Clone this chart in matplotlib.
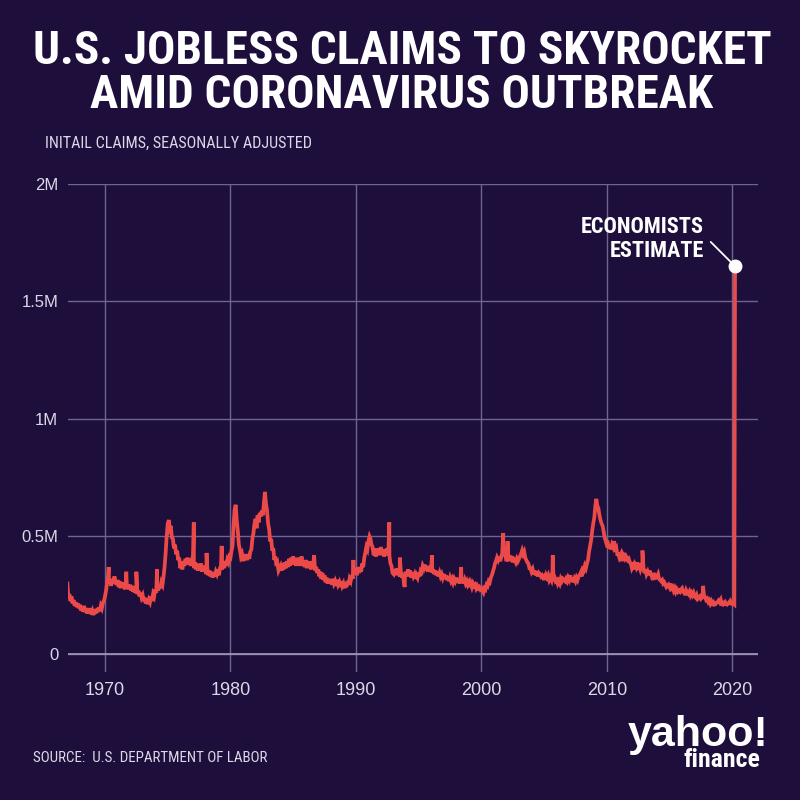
import numpy as np
import pandas as pd
import matplotlib
matplotlib.use("Agg")
import matplotlib.pyplot as plt
from matplotlib import font_manager

# -----------------------------
# DATA (thousands of initial claims, seasonally adjusted)
# -----------------------------
start_month = "1967-01"

# monthly readings, one row per year
claims_monthly_k = [
    300, 235, 255, 225, 245, 215, 230, 205, 220, 200, 215, 195,  # 1967
    210, 185, 200, 180, 205, 178, 195, 172, 190, 175, 195, 168,  # 1968
    182, 166, 188, 172, 192, 178, 198, 182, 205, 195, 218, 225,  # 1969
    245, 270, 300, 335, 300, 315, 290, 320, 300, 330, 310, 295,  # 1970
    315, 285, 310, 280, 305, 285, 300, 275, 310, 280, 295, 275,  # 1971
    295, 270, 290, 265, 285, 260, 280, 255, 270, 245, 260, 240,  # 1972
    250, 225, 240, 215, 235, 212, 230, 220, 245, 225, 255, 245,  # 1973
    275, 260, 285, 270, 295, 280, 305, 295, 330, 370, 430, 500,  # 1974
    555, 570, 535, 545, 495, 490, 450, 465, 425, 440, 400, 410,  # 1975
    365, 385, 360, 395, 375, 405, 385, 410, 380, 405, 375, 395,  # 1976
    385, 365, 390, 360, 385, 355, 380, 365, 385, 350, 375, 355,  # 1977
    370, 340, 360, 335, 355, 330, 350, 325, 345, 330, 350, 340,  # 1978
    360, 335, 365, 375, 360, 390, 365, 395, 375, 400, 390, 415,  # 1979
    410, 440, 460, 550, 615, 635, 570, 525, 465, 445, 415, 425,  # 1980
    395, 425, 400, 420, 400, 425, 405, 435, 445, 490, 515, 555,  # 1981
    575, 535, 590, 560, 600, 585, 610, 590, 640, 690, 640, 610,  # 1982
    555, 530, 480, 490, 440, 450, 400, 415, 375, 385, 355, 365,  # 1983
    375, 355, 385, 360, 390, 365, 395, 370, 405, 375, 410, 385,  # 1984
    415, 380, 405, 375, 410, 385, 400, 375, 415, 380, 395, 370,  # 1985
    400, 365, 395, 370, 385, 360, 395, 365, 420, 355, 370, 345,  # 1986
    360, 330, 350, 320, 345, 315, 335, 305, 325, 300, 320, 300,  # 1987
    315, 295, 320, 300, 310, 290, 315, 295, 305, 285, 310, 290,  # 1988
    300, 280, 305, 285, 310, 295, 320, 310, 335, 320, 355, 340,  # 1989
    365, 335, 370, 345, 365, 350, 385, 370, 410, 430, 455, 445,  # 1990
    480, 500, 490, 465, 455, 420, 450, 415, 445, 420, 450, 430,  # 1991
    455, 420, 445, 415, 440, 420, 450, 425, 420, 385, 375, 345,  # 1992
    340, 360, 335, 365, 340, 355, 330, 350, 325, 345, 300, 335,  # 1993
    350, 330, 360, 335, 355, 325, 345, 330, 340, 320, 335, 325,  # 1994
    345, 330, 355, 350, 375, 365, 380, 355, 370, 350, 375, 355,  # 1995
    370, 345, 360, 340, 355, 335, 350, 330, 345, 330, 340, 325,  # 1996
    340, 320, 335, 315, 330, 310, 325, 310, 320, 305, 320, 310,  # 1997
    325, 305, 320, 300, 315, 305, 320, 300, 315, 300, 310, 295,  # 1998
    305, 285, 300, 285, 300, 290, 295, 280, 290, 280, 285, 275,  # 1999
    280, 270, 262, 280, 275, 295, 290, 310, 305, 325, 335, 350,  # 2000
    365, 385, 395, 410, 400, 415, 395, 410, 430, 470, 430, 420,  # 2001
    395, 410, 395, 420, 400, 415, 390, 405, 400, 390, 405, 395,  # 2002
    405, 415, 425, 440, 425, 435, 410, 400, 390, 385, 365, 365,  # 2003
    350, 360, 340, 355, 335, 350, 330, 345, 340, 330, 335, 325,  # 2004
    330, 315, 335, 325, 335, 315, 325, 315, 350, 320, 325, 310,  # 2005
    315, 300, 310, 300, 320, 310, 320, 315, 310, 320, 310, 325,  # 2006
    315, 335, 310, 325, 305, 320, 310, 325, 315, 330, 335, 345,  # 2007
    330, 360, 355, 375, 365, 385, 400, 435, 460, 485, 525, 555,  # 2008
    580, 630, 660, 630, 620, 590, 570, 555, 545, 520, 495, 480,  # 2009
    465, 470, 450, 465, 445, 465, 455, 480, 450, 455, 425, 425,  # 2010
    410, 420, 395, 425, 415, 430, 405, 410, 400, 405, 390, 385,  # 2011
    365, 375, 360, 380, 370, 390, 370, 375, 360, 375, 385, 370,  # 2012
    345, 360, 340, 350, 335, 355, 340, 330, 315, 345, 330, 325,  # 2013
    330, 340, 320, 315, 310, 315, 300, 305, 295, 285, 290, 295,  # 2014
    285, 300, 280, 285, 270, 280, 265, 275, 265, 270, 265, 275,  # 2015
    280, 265, 265, 250, 270, 260, 255, 265, 250, 260, 250, 260,  # 2016
    245, 240, 250, 235, 240, 245, 235, 240, 265, 250, 240, 230,  # 2017
    235, 222, 228, 215, 225, 215, 220, 210, 212, 218, 222, 228,  # 2018
    220, 230, 212, 210, 218, 222, 212, 210, 215, 220, 226, 214,  # 2019
    212, 215, 211,                                               # 2020
]

# single-week jumps and dips visible on the chart
spike_dates = [
    "1970-04-18", "1971-09-11", "1972-07-01", "1974-02-23", "1977-01-29",
    "1978-02-04", "1979-04-21", "1989-10-21", "1992-08-29", "1993-07-03",
    "1993-11-20", "1996-01-27", "1998-05-23", "2001-09-29", "2002-02-02",
    "2005-09-10", "2012-11-03", "2017-09-02",
]
spike_claims_k = [
    370, 350, 350, 360, 560,
    430, 460, 400, 560, 410,
    285, 420, 370, 515, 480,
    420, 440, 290,
]

estimate_date = "2020-03-21"
estimate_k = 1650

year_ticks = [1970, 1980, 1990, 2000, 2010, 2020]
claim_ticks_k = [0, 500, 1000, 1500, 2000]
claim_tick_labels = ["0", "0.5M", "1M", "1.5M", "2M"]

# -----------------------------
# STYLE
# -----------------------------
BG = "#1e0e3c"
RED = "#ec4a48"
GRID = "#6e6590"
WHITE = "#ffffff"
LIGHT = "#dcd8e6"


def pick_font(candidates):
    names = {f.name for f in font_manager.fontManager.ttflist}
    for c in candidates:
        if c in names:
            return c
    return "DejaVu Sans"


NARROW = pick_font(["Liberation Sans Narrow", "Roboto Condensed", "DejaVu Sans"])
SANS = pick_font(["Liberation Sans", "Roboto", "DejaVu Sans"])


def to_decimal_year(dates):
    d = pd.DatetimeIndex(dates)
    return d.year + (d.dayofyear - 1) / 365.25


monthly = pd.Series(
    claims_monthly_k,
    index=pd.date_range(start_month, periods=len(claims_monthly_k), freq="MS"),
)
spikes = pd.Series(spike_claims_k, index=pd.to_datetime(spike_dates))
estimate = pd.Series([estimate_k], index=pd.to_datetime([estimate_date]))
series = pd.concat([monthly, spikes, estimate]).sort_index()

x = to_decimal_year(series.index)
y = series.values

# -----------------------------
# PLOT
# -----------------------------
fig = plt.figure(figsize=(8, 8), dpi=100, facecolor=BG)
ax = fig.add_axes([68 / 800, 1 - 672 / 800, 690 / 800, 488 / 800])
ax.set_facecolor(BG)

ax.plot(x, y, color=RED, lw=2.7, solid_joinstyle="miter", zorder=3)

ax.set_xlim(1967.05, 2022.05)
ax.set_ylim(-76.6, 2000)

ax.set_xticks(year_ticks)
ax.set_xticklabels([str(t) for t in year_ticks])
ax.set_yticks(claim_ticks_k)
ax.set_yticklabels(claim_tick_labels)

ax.grid(True, color=GRID, lw=1.0, zorder=1)
ax.axhline(0, color="#a8a2bc", lw=1.1, zorder=2)
for s in ax.spines.values():
    s.set_visible(False)
ax.tick_params(axis="both", length=0, colors=LIGHT)
ax.tick_params(axis="x", pad=7, labelsize=13)
ax.tick_params(axis="y", pad=7, labelsize=12)
for lab in ax.get_xticklabels() + ax.get_yticklabels():
    lab.set_fontfamily(SANS)

# estimate marker + callout
ex = to_decimal_year([estimate_date])[0]
ax.plot([ex], [estimate_k], "o", ms=9, color=WHITE, zorder=5, clip_on=False)
ax.annotate("", xy=(ex, estimate_k), xytext=(-17.5, 17.5),
            textcoords="offset points",
            arrowprops=dict(arrowstyle="-", color=WHITE, lw=1.3,
                            shrinkA=0, shrinkB=0), zorder=4)
ax.annotate("ECONOMISTS\nESTIMATE", xy=(ex, estimate_k), xytext=(-22.5, 19.5),
            textcoords="offset points", ha="right", va="center",
            multialignment="right", color=WHITE, fontsize=16,
            fontweight="bold", family=NARROW, linespacing=1.15)

# -----------------------------
# TEXT
# -----------------------------
fig.text(402 / 800, 1 - 51 / 800, "U.S. JOBLESS CLAIMS TO SKYROCKET",
         ha="center", va="center", color=WHITE, fontsize=34,
         fontweight="heavy", family=NARROW)
fig.text(402 / 800, 1 - 95 / 800, "AMID CORONAVIRUS OUTBREAK",
         ha="center", va="center", color=WHITE, fontsize=34,
         fontweight="heavy", family=NARROW)
fig.text(45 / 800, 1 - 143 / 800, "INITAIL CLAIMS, SEASONALLY ADJUSTED",
         ha="left", va="center", color=LIGHT, fontsize=11.6, family=NARROW)
fig.text(33 / 800, 1 - 758 / 800, "SOURCE:  U.S. DEPARTMENT OF LABOR",
         ha="left", va="center", color=LIGHT, fontsize=10.8, family=NARROW)

# logo
fig.text(768 / 800, 1 - 746 / 800, "yahoo!", ha="right", va="baseline",
         color=WHITE, fontsize=31, fontweight="heavy", family=SANS)
fig.text(760 / 800, 1 - 767 / 800, "finance", ha="right", va="baseline",
         color=WHITE, fontsize=18.5, fontweight="heavy", family=NARROW)

fig.savefig("out.png", dpi=100, facecolor=BG)
